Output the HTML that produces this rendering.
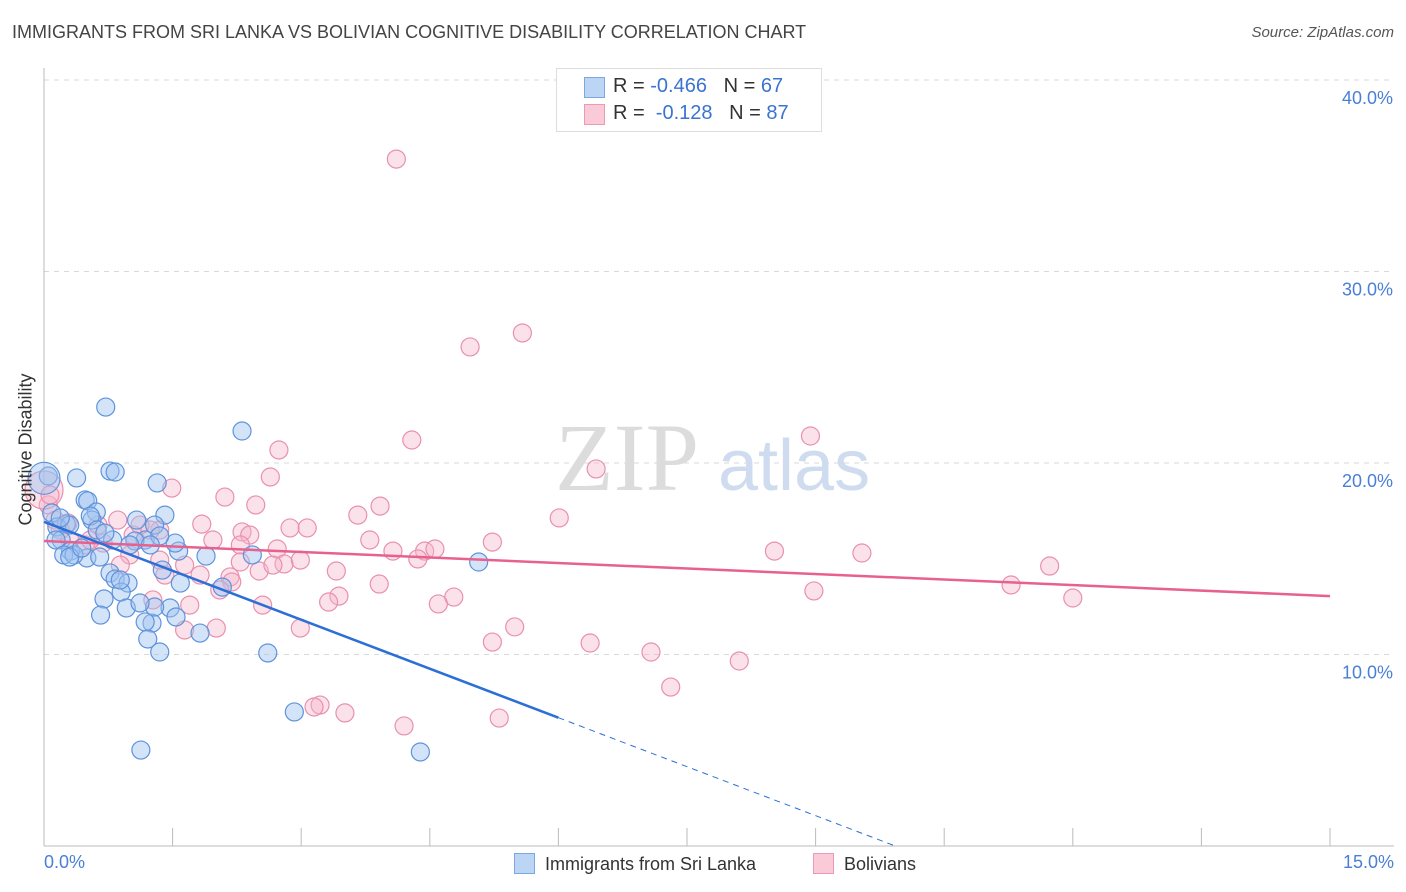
<!DOCTYPE html>
<html><head><meta charset="utf-8">
<style>
body{margin:0;background:#fff;font-family:"Liberation Sans",sans-serif;}
#wrap{position:relative;width:1406px;height:892px;overflow:hidden;}
.t{position:absolute;white-space:nowrap;}
</style></head>
<body>
<div id="wrap">
<div class="t" style="left:12px;top:22px;font-size:18px;color:#444;">IMMIGRANTS FROM SRI LANKA VS BOLIVIAN COGNITIVE DISABILITY CORRELATION CHART</div>
<div class="t" style="right:12px;top:24px;font-size:15px;color:#555;font-style:italic;">Source: ZipAtlas.com</div>
<svg id="plot" width="1406" height="892" style="position:absolute;left:0;top:0"></svg>
</div>
<script>
const blueX=[0.72,2.31,0.05,0.38,0.77,0.83,1.32,0,0.48,0.51,0.09,0.61,1.41,0.26,0.56,0.15,0.30,1.29,1.08,0.20,0.14,0.31,0.50,0.65,1.18,1.06,1.57,1.89,2.43,5.07,0.77,0.83,0.98,1.38,1.59,2.08,0.90,0.70,0.96,1.47,1.26,0.66,1.18,1.54,1.82,1.21,1.35,2.61,2.92,1.13,4.39,0.23,0.35,0.54,1.00,1.53,0.80,1.35,1.24,0.30,0.62,0.89,1.29,0.19,0.44,0.71,1.12];
const blueY=[22.92,21.67,19.32,19.22,19.58,19.53,18.96,19.2,18.07,18.02,17.39,17.44,17.28,16.81,17.02,16.66,16.76,16.76,17.02,15.98,15.98,15.40,15.04,15.09,15.98,15.93,15.40,15.14,15.20,14.83,14.26,13.94,13.73,14.41,13.73,13.52,13.26,12.90,12.43,12.43,11.64,12.06,11.70,11.96,11.12,10.81,10.13,10.08,7.00,5.01,4.91,15.20,15.20,17.23,15.72,15.82,15.98,16.19,15.72,15.09,16.50,13.89,12.48,17.13,15.56,16.34,12.69];
const pinkX=[4.11,5.58,4.97,8.94,4.29,2.74,6.44,2.64,1.49,2.11,2.47,3.92,3.66,6.01,1.84,2.87,3.07,2.31,2.40,1.35,0.86,0.63,0.05,0.13,0.28,0.30,0.48,0.69,1.04,1.24,1.97,2.29,2.72,4.07,4.44,4.56,5.23,8.52,9.54,11.73,4.36,1.64,1.00,1.41,2.80,2.51,3.41,2.17,2.19,3.91,11.28,8.98,12.00,3.44,3.32,4.78,4.60,2.55,1.27,1.70,2.01,1.64,2.99,5.49,5.23,6.37,7.08,8.11,7.31,3.22,3.15,3.51,4.20,5.31,0,0.07,0.19,0.54,1.12,1.35,0.89,2.29,1.82,2.67,2.99,3.80,2.05];
const pinkY=[35.87,26.79,26.06,21.41,21.20,20.68,19.69,19.27,18.69,18.22,17.81,17.75,17.28,17.13,16.81,16.61,16.61,16.40,16.24,16.50,17.02,16.76,17.81,17.02,16.87,15.98,15.72,15.82,16.24,16.50,15.98,15.72,15.51,15.40,15.40,15.51,15.87,15.40,15.30,14.62,14.99,14.67,15.20,14.15,14.73,14.36,14.36,14.05,13.79,13.68,13.63,13.32,12.95,13.05,12.74,13.00,12.64,12.58,12.85,12.58,11.38,11.28,11.38,11.44,10.65,10.60,10.13,9.66,8.30,7.36,7.26,6.95,6.27,6.68,18.59,18.33,16.50,15.98,16.76,14.93,14.67,14.83,14.15,14.67,14.93,15.98,13.37];
const yTicks=[10,20,30,40];
const yTickLabels=["10.0%","20.0%","30.0%","40.0%"];
const blueTrend=[16.93,-1.705];
const pinkTrend=[15.93,-0.192];

const NS="http://www.w3.org/2000/svg";
const svg=document.getElementById('plot');
const X0=44,X1=1330,Y0=846;
const sx=v=>X0+v*(X1-X0)/15;
const sy=v=>Y0-v*19.15;
function mk(t,a){const e=document.createElementNS(NS,t);for(const k in a)e.setAttribute(k,a[k]);svg.appendChild(e);return e;}

// grid
yTicks.forEach((t,i)=>{
 const g=mk('line',{x1:X0,x2:1394,y1:sy(t),y2:sy(t),stroke:'#d8d8d8','stroke-dasharray':'5,5'});
 
 
 const tx=mk('text',{x:1393,y:sy(t)+24,'text-anchor':'end','font-size':18,fill:'#4a7fd6','font-family':'Liberation Sans, sans-serif'});
 tx.textContent=yTickLabels[i];
 
 
});
// axes
let ax=mk('line',{x1:X0,x2:X0,y1:68,y2:Y0,stroke:'#bbb'});


ax=mk('line',{x1:X0,x2:1394,y1:Y0,y2:Y0,stroke:'#bbb'});


for(let i=0;i<=10;i++){
 const tk=mk('line',{x1:sx(i*1.5),x2:sx(i*1.5),y1:Y0,y2:i==0?Y0:828,stroke:'#bbb'});
 
 
}
// watermark
let wm=mk('text',{x:555,y:490,'font-size':96,fill:'#dcdcdc','font-family':'Liberation Serif, serif'});
wm.textContent='ZIP';


wm=mk('text',{x:718,y:490,'font-size':72,fill:'#cfdcf0','font-family':'Liberation Sans, sans-serif'});
wm.textContent='atlas';



function dots(xs,ys,fill,stroke,name){
 xs.forEach((x,i)=>{
  const big=(x===0);
  const c=mk('circle',{cx:sx(x),cy:sy(ys[i]),r:big?(name==='pink'?19:16):9,fill:fill,stroke:stroke,'stroke-width':1.2});
  
  
 });
}
dots(pinkX,pinkY,'rgba(246,180,202,0.4)','#e990ae','pink');
dots(blueX,blueY,'rgba(160,196,240,0.45)','#5e93dc','blue');

// trends
let l=mk('line',{x1:sx(0),y1:sy(pinkTrend[0]),x2:sx(15),y2:sy(pinkTrend[0]+pinkTrend[1]*15),stroke:'#e8608e','stroke-width':2.5});


const xe=6.0, xz=-blueTrend[0]/blueTrend[1];
l=mk('line',{x1:sx(0),y1:sy(blueTrend[0]),x2:sx(xe),y2:sy(blueTrend[0]+blueTrend[1]*xe),stroke:'#2c6fd6','stroke-width':2.5});


l=mk('line',{x1:sx(xe),y1:sy(blueTrend[0]+blueTrend[1]*xe),x2:sx(xz),y2:sy(0),stroke:'#2c6fd6','stroke-width':1,'stroke-dasharray':'6,5'});


</script>
<div class="t" style="left:-44px;top:445px;font-size:18px;color:#333;transform:rotate(-90deg);width:140px;text-align:center;">Cognitive Disability</div>
<div class="t" style="left:44px;top:852px;font-size:18px;color:#4a7fd6;">0.0%</div>
<div class="t" style="right:12px;top:852px;font-size:18px;color:#4a7fd6;">15.0%</div>
<div style="position:absolute;left:556px;top:68px;width:264px;height:62px;border:1px solid #ddd;background:#fff;font-size:20px;">
 <div style="position:absolute;left:27px;top:8px;width:19px;height:19px;background:#bcd5f5;border:1px solid #7aa7e5;"></div>
 <div class="t" style="left:56px;top:6px;color:#333;">R = <span style="color:#3a74d0">-0.466</span> &nbsp; N = <span style="color:#3a74d0">67</span></div>
 <div style="position:absolute;left:27px;top:35px;width:19px;height:19px;background:#fbcad8;border:1px solid #eb9ab5;"></div>
 <div class="t" style="left:56px;top:33px;color:#333;">R = &nbsp;<span style="color:#3a74d0">-0.128</span> &nbsp; N = <span style="color:#3a74d0">87</span></div>
</div>
<div style="position:absolute;left:514px;top:853px;font-size:18px;color:#333;">
 <span style="display:inline-block;width:19px;height:19px;background:#bcd5f5;border:1px solid #7aa7e5;vertical-align:-4px;margin-right:10px;"></span>Immigrants from Sri Lanka</div>
<div style="position:absolute;left:813px;top:853px;font-size:18px;color:#333;">
 <span style="display:inline-block;width:19px;height:19px;background:#fbcad8;border:1px solid #eb9ab5;vertical-align:-4px;margin-right:10px;"></span>Bolivians</div>
</body></html>
